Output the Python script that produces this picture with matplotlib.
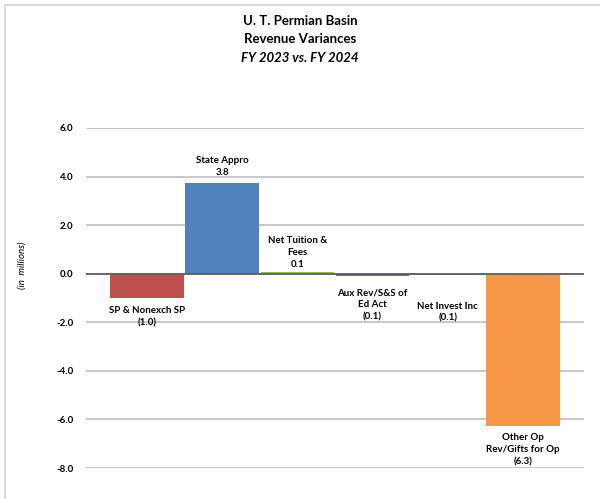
import numpy as np
import matplotlib.pyplot as plt
from matplotlib.patches import Rectangle

plt.rcParams['font.family'] = ['Lato', 'DejaVu Sans']

categories = ['SP & Nonexch SP', 'State Appro', 'Net Tuition &\nFees', 'Aux Rev/S&S of\nEd Act',
              'Net Invest Inc', 'Other Op\nRev/Gifts for Op']
variances = np.array([-0.98, 3.75, 0.07, -0.08, -0.06, -6.27])
colors = ['#C0504D', '#4F81BD', '#9BBB59', '#8064A2', '#4BACC6', '#F79646']
# extra offset (points) of each data label away from its bar
label_pad = [6, 4, 2, 9, 19, 5]


def fmt(v):
    return "({:.1f})".format(abs(v)) if v < 0 else "{:.1f}".format(v)


fig = plt.figure(figsize=(6, 4.99), dpi=100)
ax = fig.add_axes([0.1433, 0.0621, 0.83, 0.6814])

x = np.arange(len(categories))
ax.bar(x, variances, width=0.98, color=colors, zorder=3)

ax.set_xlim(-0.81, 5.81)
ax.set_ylim(-8, 6)
ticks = np.arange(-8, 7, 2)
ax.set_yticks(ticks)
ax.set_yticklabels(["{:.1f}".format(t) for t in ticks], fontsize=7, fontweight='bold')
ax.set_xticks([])
ax.tick_params(axis='y', length=0, pad=9)
ax.grid(axis='y', color='#BFBFBF', linewidth=1.2, zorder=0)
ax.axhline(0, color='#595959', linewidth=1.2, zorder=4)
for s in ax.spines.values():
    s.set_visible(False)

for i, v in enumerate(variances):
    txt = categories[i] + "\n" + fmt(v)
    if v >= 0:
        ax.annotate(txt, xy=(i, v), xytext=(0, label_pad[i]), textcoords='offset points',
                    ha='center', va='bottom', fontsize=7, fontweight='bold', linespacing=1.45, zorder=5)
    else:
        ax.annotate(txt, xy=(i, v), xytext=(0, -label_pad[i]), textcoords='offset points',
                    ha='center', va='top', fontsize=7, fontweight='bold', linespacing=1.45, zorder=5)

ax.set_ylabel("(in  millions)", fontsize=7, fontstyle='italic')
ax.yaxis.set_label_coords(-0.119, 0.595)

fig.text(0.5, 0.958, "U. T. Permian Basin", ha='center', va='center', fontsize=9.5, fontweight='bold')
fig.text(0.5, 0.921, "Revenue Variances", ha='center', va='center', fontsize=9.5, fontweight='bold')
fig.text(0.5, 0.884, "FY 2023 vs. FY 2024", ha='center', va='center', fontsize=9.5,
         fontweight='bold', fontstyle='italic')

# outer chart border (only top and left edges fall inside the image)
fig.patches.append(Rectangle((0.009, -0.05), 1.1, 1.039, transform=fig.transFigure,
                             fill=False, edgecolor='#D9D9D9', linewidth=1.5))

fig.savefig('out.png', dpi=100)
